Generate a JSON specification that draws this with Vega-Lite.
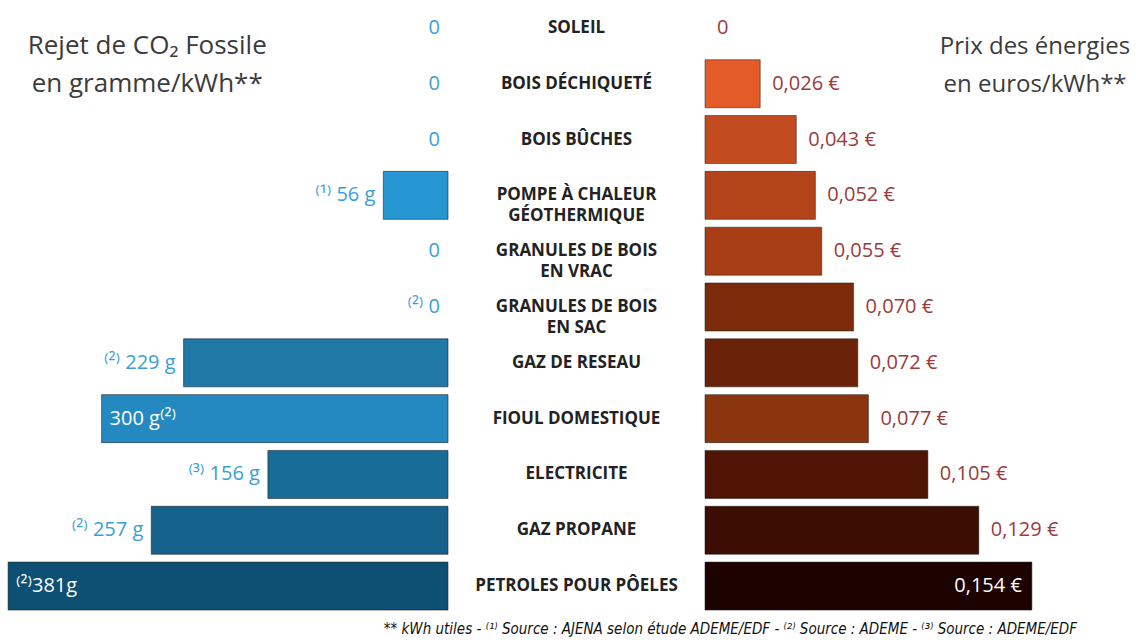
{
  "$schema": "https://vega.github.io/schema/vega-lite/v6.json",
  "padding": 0,
  "spacing": 0,
  "background": "white",
  "config": {"view": {"stroke": null}, "font": "Open Sans"},
  "resolve": {"scale": {"color": "independent", "x": "independent"}},
  "title": {
    "text": "** kWh utiles - ⁽¹⁾ Source : AJENA selon étude ADEME/EDF - ⁽²⁾ Source : ADEME - ⁽³⁾ Source : ADEME/EDF",
    "orient": "bottom", "anchor": "end", "dx": -61, "offset": 8,
    "font": "Liberation Sans Narrow, DejaVu Sans Condensed, sans-serif",
    "fontSize": 15, "fontStyle": "italic", "fontWeight": "normal", "color": "#111"
  },
  "data": {"values": [
    {"cat": "SOLEIL", "co2": 0, "co2_label": "0", "price": 0, "price_label": "0"},
    {"cat": "BOIS DÉCHIQUETÉ", "co2": 0, "co2_label": "0", "price": 0.026, "price_label": "0,026 €"},
    {"cat": "BOIS BÛCHES", "co2": 0, "co2_label": "0", "price": 0.043, "price_label": "0,043 €"},
    {"cat": "POMPE À CHALEUR\nGÉOTHERMIQUE", "co2": 56, "co2_label": "⁽¹⁾ 56 g", "price": 0.052, "price_label": "0,052 €"},
    {"cat": "GRANULES DE BOIS\nEN VRAC", "co2": 0, "co2_label": "0", "price": 0.055, "price_label": "0,055 €"},
    {"cat": "GRANULES DE BOIS\nEN SAC", "co2": 0, "co2_label": "⁽²⁾ 0", "price": 0.070, "price_label": "0,070 €"},
    {"cat": "GAZ DE RESEAU", "co2": 229, "co2_label": "⁽²⁾ 229 g", "price": 0.072, "price_label": "0,072 €"},
    {"cat": "FIOUL DOMESTIQUE", "co2": 300, "co2_label": "300 g⁽²⁾", "price": 0.077, "price_label": "0,077 €"},
    {"cat": "ELECTRICITE", "co2": 156, "co2_label": "⁽³⁾ 156 g", "price": 0.105, "price_label": "0,105 €"},
    {"cat": "GAZ PROPANE", "co2": 257, "co2_label": "⁽²⁾ 257 g", "price": 0.129, "price_label": "0,129 €"},
    {"cat": "PETROLES POUR PÔELES", "co2": 381, "co2_label": "⁽²⁾381g", "price": 0.154, "price_label": "0,154 €"}
  ]},
  "hconcat": [
    {
      "width": 448, "height": 614,
      "layer": [
        {
          "transform": [{"filter": "datum.co2 > 0"}],
          "mark": {"type": "bar", "stroke": "#1a1a1a", "strokeOpacity": 0.55, "strokeWidth": 1},
          "encoding": {
            "y": {"field": "cat", "type": "nominal", "sort": null, "axis": null, "scale": {
              "domain": ["SOLEIL", "BOIS DÉCHIQUETÉ", "BOIS BÛCHES", "POMPE À CHALEUR\nGÉOTHERMIQUE", "GRANULES DE BOIS\nEN VRAC", "GRANULES DE BOIS\nEN SAC", "GAZ DE RESEAU", "FIOUL DOMESTIQUE", "ELECTRICITE", "GAZ PROPANE", "PETROLES POUR PÔELES"],
              "paddingInner": 0.14, "paddingOuter": 0.07}},
            "x": {"field": "co2", "type": "quantitative", "axis": null, "scale": {"domain": [0, 388], "reverse": true, "nice": false, "zero": false}},
            "color": {"field": "cat", "type": "nominal", "legend": null, "scale": {
              "domain": ["POMPE À CHALEUR\nGÉOTHERMIQUE", "GAZ DE RESEAU", "FIOUL DOMESTIQUE", "ELECTRICITE", "GAZ PROPANE", "PETROLES POUR PÔELES"],
              "range": ["#2596d2", "#1f78a6", "#2389c0", "#176d98", "#15638c", "#0e5074"]}}
          }
        },
        {
          "transform": [{"filter": "datum.co2 < 300"}],
          "mark": {"type": "text", "align": "right", "baseline": "middle", "dx": -8, "fontSize": 20, "color": "#3a9fd6"},
          "encoding": {
            "y": {"field": "cat", "type": "nominal", "sort": null, "axis": null},
            "x": {"field": "co2", "type": "quantitative", "axis": null, "scale": {"domain": [0, 388], "reverse": true, "nice": false, "zero": false}},
            "text": {"field": "co2_label"}
          }
        },
        {
          "transform": [{"filter": "datum.co2 >= 300"}],
          "mark": {"type": "text", "align": "left", "baseline": "middle", "dx": 8, "fontSize": 20, "color": "#ffffff"},
          "encoding": {
            "y": {"field": "cat", "type": "nominal", "sort": null, "axis": null},
            "x": {"field": "co2", "type": "quantitative", "axis": null, "scale": {"domain": [0, 388], "reverse": true, "nice": false, "zero": false}},
            "text": {"field": "co2_label"}
          }
        },
        {
          "transform": [{"filter": "datum.cat == 'SOLEIL'"}],
          "mark": {"type": "text", "align": "center", "baseline": "alphabetic", "dy": 26, "fontSize": 26, "lineHeight": 38, "color": "#3b3b3b"},
          "encoding": {
            "y": {"field": "cat", "type": "nominal", "sort": null, "axis": null},
            "x": {"datum": 260.5, "type": "quantitative", "scale": {"domain": [0, 388], "reverse": true, "nice": false, "zero": false}},
            "text": {"value": ["Rejet de CO₂ Fossile", "en gramme/kWh**"]}
          }
        }
      ]
    },
    {
      "width": 255, "height": 614,
      "mark": {"type": "text", "fontWeight": "bold", "fontSize": 17, "lineBreak": "\n", "lineHeight": 21, "color": "#222222", "baseline": "middle", "align": "center"},
      "encoding": {
        "y": {"field": "cat", "type": "nominal", "sort": null, "axis": null, "scale": {
          "domain": ["SOLEIL", "BOIS DÉCHIQUETÉ", "BOIS BÛCHES", "POMPE À CHALEUR\nGÉOTHERMIQUE", "GRANULES DE BOIS\nEN VRAC", "GRANULES DE BOIS\nEN SAC", "GAZ DE RESEAU", "FIOUL DOMESTIQUE", "ELECTRICITE", "GAZ PROPANE", "PETROLES POUR PÔELES"],
          "paddingInner": 0.14, "paddingOuter": 0.07}},
        "text": {"field": "cat"}
      }
    },
    {
      "width": 433, "height": 614,
      "layer": [
        {
          "transform": [{"filter": "datum.price > 0"}],
          "mark": {"type": "bar", "stroke": "#1a1a1a", "strokeOpacity": 0.5, "strokeWidth": 1},
          "encoding": {
            "y": {"field": "cat", "type": "nominal", "sort": null, "axis": null, "scale": {
              "domain": ["SOLEIL", "BOIS DÉCHIQUETÉ", "BOIS BÛCHES", "POMPE À CHALEUR\nGÉOTHERMIQUE", "GRANULES DE BOIS\nEN VRAC", "GRANULES DE BOIS\nEN SAC", "GAZ DE RESEAU", "FIOUL DOMESTIQUE", "ELECTRICITE", "GAZ PROPANE", "PETROLES POUR PÔELES"],
              "paddingInner": 0.14, "paddingOuter": 0.07}},
            "x": {"field": "price", "type": "quantitative", "axis": null, "scale": {"domain": [0, 0.204], "nice": false, "zero": false}},
            "color": {"field": "cat", "type": "nominal", "legend": null, "scale": {
              "domain": ["BOIS DÉCHIQUETÉ", "BOIS BÛCHES", "POMPE À CHALEUR\nGÉOTHERMIQUE", "GRANULES DE BOIS\nEN VRAC", "GRANULES DE BOIS\nEN SAC", "GAZ DE RESEAU", "FIOUL DOMESTIQUE", "ELECTRICITE", "GAZ PROPANE", "PETROLES POUR PÔELES"],
              "range": ["#e35b29", "#c24b1f", "#b3441a", "#a83e16", "#7c2b0a", "#6a2208", "#8a350e", "#4f1404", "#3b0d03", "#1c0300"]}}
          }
        },
        {
          "transform": [{"filter": "datum.price < 0.15"}],
          "mark": {"type": "text", "align": "left", "baseline": "middle", "dx": 12, "fontSize": 20, "color": "#9a3b3c"},
          "encoding": {
            "y": {"field": "cat", "type": "nominal", "sort": null, "axis": null},
            "x": {"field": "price", "type": "quantitative", "axis": null, "scale": {"domain": [0, 0.204], "nice": false, "zero": false}},
            "text": {"field": "price_label"}
          }
        },
        {
          "transform": [{"filter": "datum.price >= 0.15"}],
          "mark": {"type": "text", "align": "right", "baseline": "middle", "dx": -10, "fontSize": 20, "color": "#ffffff"},
          "encoding": {
            "y": {"field": "cat", "type": "nominal", "sort": null, "axis": null},
            "x": {"field": "price", "type": "quantitative", "axis": null, "scale": {"domain": [0, 0.204], "nice": false, "zero": false}},
            "text": {"field": "price_label"}
          }
        },
        {
          "transform": [{"filter": "datum.cat == 'SOLEIL'"}],
          "mark": {"type": "text", "align": "center", "baseline": "alphabetic", "dy": 26, "fontSize": 24, "lineHeight": 38, "color": "#3b3b3b"},
          "encoding": {
            "y": {"field": "cat", "type": "nominal", "sort": null, "axis": null},
            "x": {"datum": 0.1555, "type": "quantitative", "scale": {"domain": [0, 0.204], "nice": false, "zero": false}},
            "text": {"value": ["Prix des énergies", "en euros/kWh**"]}
          }
        }
      ]
    }
  ]
}
